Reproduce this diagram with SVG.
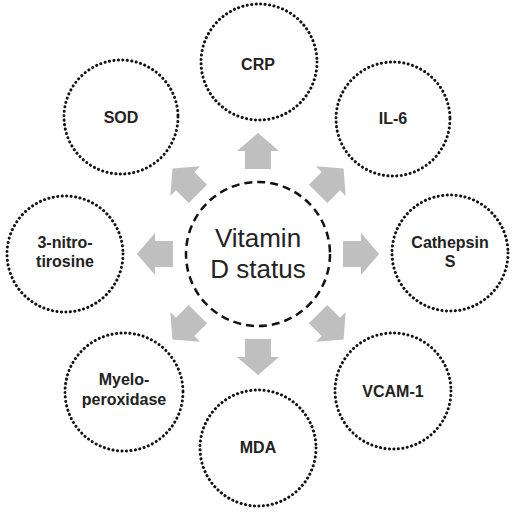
<svg xmlns="http://www.w3.org/2000/svg" width="519" height="512" viewBox="0 0 519 512">
  <style>
    .outer { fill: #fff; stroke: #111; stroke-width: 3; stroke-dasharray: 0.1 4.4; stroke-linecap: round; }
    .center { fill: #fff; stroke: #111; stroke-width: 2.5; stroke-dasharray: 8 5; }
    .lbl { font-family: "Liberation Sans", Arial, sans-serif; font-weight: bold; font-size: 16px; fill: #222; text-anchor: middle; }
    .main { font-family: "Liberation Sans", Arial, sans-serif; font-size: 26px; fill: #222; text-anchor: middle; }
    .arrow { fill: #BFBFBF; }
  </style>
  <defs>
    <path id="arr" class="arrow" d="M85,-13 H103 V-21 L121,0 L103,21 V13 H85 Z"/>
  </defs>
  <rect width="519" height="512" fill="#fff"/>
  <g id="connectors">
    <use href="#arr" transform="translate(258,254) rotate(-90)"/>
    <use href="#arr" transform="translate(258,254) rotate(-45)"/>
    <use href="#arr" transform="translate(258,254) rotate(0)"/>
    <use href="#arr" transform="translate(258,254) rotate(45)"/>
    <use href="#arr" transform="translate(258,254) rotate(90)"/>
    <use href="#arr" transform="translate(258,254) rotate(135)"/>
    <use href="#arr" transform="translate(258,254) rotate(180)"/>
    <use href="#arr" transform="translate(258,254) rotate(-135)"/>
  </g>
  <g id="vitamin-d">
    <circle class="center" cx="258" cy="254" r="72"/>
    <text class="main" x="258" y="247">Vitamin</text>
    <text class="main" x="258" y="278">D status</text>
  </g>
  <g id="crp">
    <circle class="outer" cx="259" cy="62" r="58"/>
    <text class="lbl" x="258" y="70">CRP</text>
  </g>
  <g id="il6">
    <circle class="outer" cx="393" cy="119" r="57"/>
    <text class="lbl" x="393" y="124">IL-6</text>
  </g>
  <g id="cathepsin">
    <circle class="outer" cx="450" cy="253" r="58"/>
    <text class="lbl" x="450" y="248">Cathepsin</text>
    <text class="lbl" x="450" y="267">S</text>
  </g>
  <g id="vcam1">
    <circle class="outer" cx="393" cy="391" r="58"/>
    <text class="lbl" x="393" y="397">VCAM-1</text>
  </g>
  <g id="mda">
    <circle class="outer" cx="258" cy="448" r="58"/>
    <text class="lbl" x="258" y="453">MDA</text>
  </g>
  <g id="myeloperoxidase">
    <circle class="outer" cx="124" cy="392" r="59"/>
    <text class="lbl" x="124" y="385">Myelo-</text>
    <text class="lbl" x="124" y="405">peroxidase</text>
  </g>
  <g id="nitrotirosine">
    <circle class="outer" cx="65" cy="254" r="58"/>
    <text class="lbl" x="65" y="248">3-nitro-</text>
    <text class="lbl" x="65" y="267">tirosine</text>
  </g>
  <g id="sod">
    <circle class="outer" cx="121" cy="117" r="57"/>
    <text class="lbl" x="121" y="123">SOD</text>
  </g>
</svg>
